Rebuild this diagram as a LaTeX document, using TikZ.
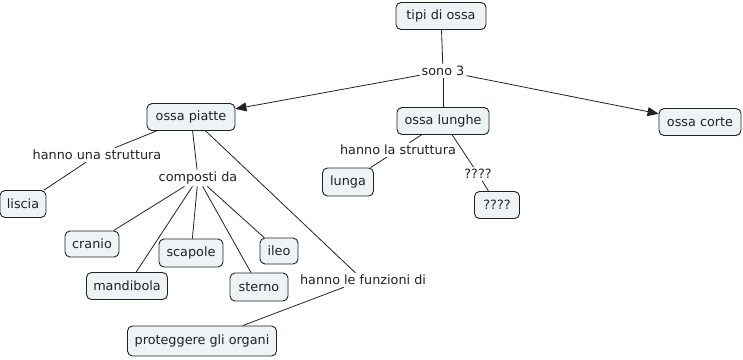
\documentclass[tikz,border=0pt]{standalone}
\usepackage{fontspec}
\setmainfont{DejaVu Sans}
\usetikzlibrary{arrows.meta}
\definecolor{boxfill}{HTML}{EEF3F5}
\definecolor{ink}{HTML}{222222}
\tikzset{
  concept/.style={draw=ink, fill=boxfill, rounded corners=5pt, line width=0.9pt,
    text=ink, font=\fontsize{12.8}{14}\selectfont, minimum height=27pt, inner xsep=5pt},
  linklabel/.style={text=ink, font=\fontsize{12.8}{14}\selectfont, inner sep=2pt},
  conn/.style={draw=ink, line width=0.8pt},
  arr/.style={conn, -{Triangle[length=11pt,width=9pt]}}
}
\begin{document}
\begin{tikzpicture}[x=1pt,y=-1pt]
\useasboundingbox (0,0) rectangle (743,359);
\node[concept, minimum width=90pt] (tipi) at (441,16) {tipi di ossa};
\node[linklabel] (sono) at (443,71) {sono 3};
\node[concept, minimum width=88pt] (piatte) at (191,117) {ossa piatte};
\node[concept, minimum width=92pt] (lunghe) at (443,121) {ossa lunghe};
\node[concept, minimum width=82pt] (corte) at (700,122) {ossa corte};
\node[linklabel] (hus) at (97,155) {hanno una struttura};
\node[concept, minimum width=46pt] (liscia) at (23,204) {liscia};
\node[linklabel] (comp) at (198,178) {composti da};
\node[concept, minimum width=54pt, minimum height=26pt] (cranio) at (92,244) {cranio};
\node[concept, minimum width=64pt, minimum height=28pt] (scapole) at (191,253) {scapole};
\node[concept, minimum width=38pt, minimum height=26pt] (ileo) at (279,251) {ileo};
\node[concept, minimum width=81pt] (mandibola) at (127,286) {mandibola};
\node[concept, minimum width=58pt, minimum height=28pt] (sterno) at (259,287) {sterno};
\node[linklabel] (hlf) at (363,280) {hanno le funzioni di};
\node[concept, minimum width=149pt, minimum height=30pt] (protegg) at (202,341) {proteggere gli organi};
\node[linklabel] (hls) at (398,150) {hanno la struttura};
\node[concept, minimum width=51pt, minimum height=28pt] (lunga) at (348,182) {lunga};
\node[linklabel] (qlab) at (478,174) {????};
\node[concept, minimum width=45pt] (qbox) at (497,205) {????};

\draw[conn] (tipi) -- (sono);
\draw[arr] (sono) -- (piatte);
\draw[conn] (sono) -- (lunghe);
\draw[arr] (sono) -- (corte);
\draw[conn] (piatte) -- (hus);
\draw[conn] (hus) -- (liscia);
\draw[conn] (piatte) -- (comp);
\draw[conn] (comp) -- (cranio);
\draw[conn] (comp) -- (scapole);
\draw[conn] (comp) -- (ileo);
\draw[conn] (comp) -- (mandibola);
\draw[conn] (comp) -- (sterno);
\draw[conn] (piatte) -- (hlf);
\draw[conn] (hlf) -- (protegg);
\draw[conn] (lunghe) -- (hls);
\draw[conn] (hls) -- (lunga);
\draw[conn] (lunghe) -- (qlab);
\draw[conn] (qlab) -- (qbox);
\end{tikzpicture}
\end{document}
